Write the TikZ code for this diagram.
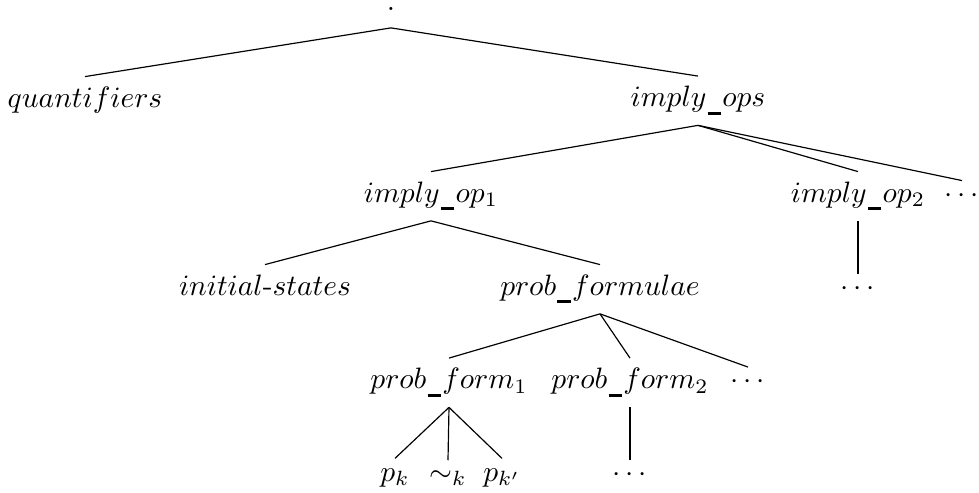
\documentclass[tikz,border=0pt]{standalone}
\newcommand{\ubar}{\mbox{\kern0.4pt\rule[-2.7pt]{4.6pt}{1.1pt}\kern0.4pt}}
\begin{document}
\begin{tikzpicture}[x=0.339pt,y=-0.339pt,
  lbl/.style={anchor=base,inner sep=3.33pt},
  dts/.style={anchor=base,inner sep=3.33pt,text height=3.9pt},
  edge/.style={draw=black,line width=0.4pt}]
\useasboundingbox (0,0) rectangle (979,493);
% level 0
\node[anchor=base,inner sep=0pt,text depth=5.6pt] (root) at (391,10.8) {$.$};
% level 1
\node[lbl] (quant) at (85,107.5) {$quantifiers$};
\node[lbl] (ops) at (698,107) {$imply\ubar ops$};
% level 2
\node[lbl] (op1) at (431,202.5) {$imply\ubar op_1$};
\node[lbl] (op2) at (858,202.5) {$imply\ubar op_2$};
\node[dts] (opd) at (962,202.5) {$\cdots$};
% level 3
\node[lbl] (init) at (265,295.5) {$initial\mbox{-}states$};
\node[lbl] (pf) at (600,295.5) {$prob\ubar formulae$};
\node[dts] (op2d) at (858,295.5) {$\cdots$};
% level 4
\node[lbl] (f1) at (449,389) {$prob\ubar form_1$};
\node[lbl] (f2) at (630,389) {$prob\ubar form_2$};
\node[dts] (fd) at (748,389) {$\cdots$};
% level 5
\node[lbl] (pk) at (395,481.5) {$p_k$};
\node[lbl] (sk) at (448,481.5) {$\sim_k$};
\node[lbl] (pkp) at (502,481.5) {$p_{k'}$};
\node[dts] (f2d) at (630,481.5) {$\cdots$};
% edges
\draw[edge] (root.south) -- (quant.north);
\draw[edge] (root.south) -- (ops.north);
\draw[edge] (ops.south) -- (op1.north);
\draw[edge] (ops.south) -- (op2.north);
\draw[edge] (ops.south) -- (opd.north);
\draw[edge] (op1.south) -- (init.north);
\draw[edge] (op1.south) -- (pf.north);
\draw[edge] (op2.south) -- (op2d.north);
\draw[edge] (pf.south) -- (f1.north);
\draw[edge] (pf.south) -- (f2.north);
\draw[edge] (pf.south) -- (fd.north);
\draw[edge] (f1.south) -- (pk.north);
\draw[edge] (f1.south) -- (sk.north);
\draw[edge] (f1.south) -- (pkp.north);
\draw[edge] (f2.south) -- (f2d.north);
\end{tikzpicture}
\end{document}
